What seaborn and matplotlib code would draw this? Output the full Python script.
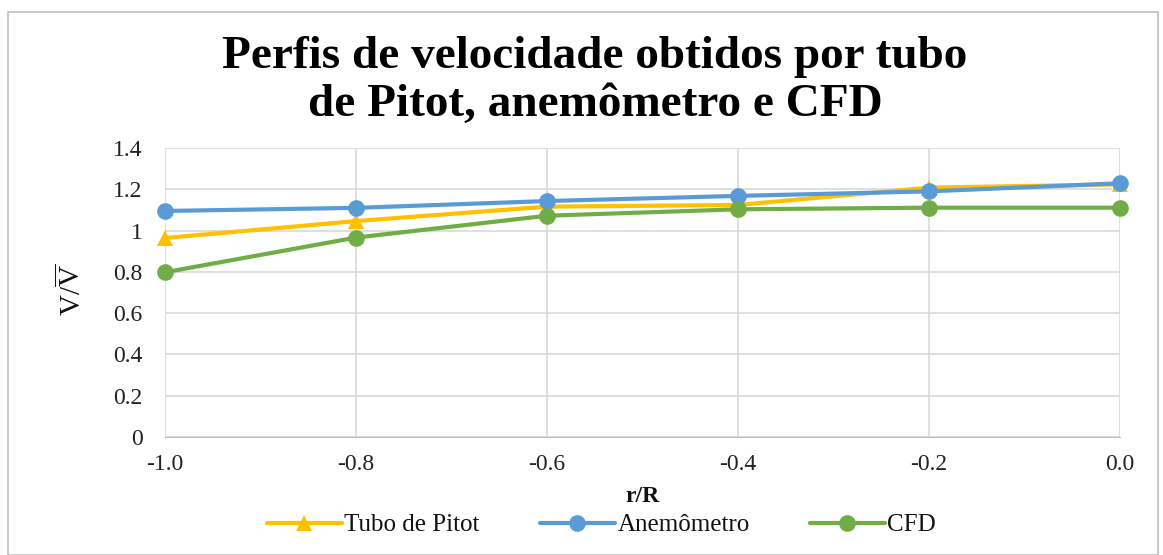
import pandas as pd
import matplotlib.pyplot as plt
import seaborn as sns
from matplotlib.patches import Rectangle

# ── Data ──────────────────────────────────────────────
r_R = [-1.0, -0.8, -0.6, -0.4, -0.2, 0.0]
pitot = [0.964, 1.046, 1.116, 1.124, 1.208, 1.224]
anemometro = [1.095, 1.11, 1.143, 1.168, 1.19, 1.229]
cfd = [0.798, 0.966, 1.072, 1.103, 1.111, 1.111]

series_names = ['Tubo de Pitot', 'Anemômetro', 'CFD']
series_colors = ['#FFC000', '#5B9BD5', '#70AD47']
series_markers = ['^', 'o', 'o']

df = pd.DataFrame({
    'r/R': r_R * 3,
    'v': pitot + anemometro + cfd,
    'serie': sum([[n] * len(r_R) for n in series_names], []),
})

# ── Settings ──────────────────────────────────────────
sns.set_style('white')
plt.rcParams['font.family'] = ['Liberation Serif', 'DejaVu Serif']
plt.rcParams['mathtext.fontset'] = 'custom'
plt.rcParams['mathtext.rm'] = 'Liberation Serif'
plt.rcParams['mathtext.it'] = 'Liberation Serif'
plt.rcParams['text.color'] = '#111111'
plt.rcParams['axes.labelcolor'] = '#111111'
plt.rcParams['xtick.color'] = '#222222'
plt.rcParams['ytick.color'] = '#222222'

fig = plt.figure(figsize=(11.63, 5.55), dpi=100)
ax = fig.add_axes([165 / 1163, 1 - 437 / 555, 955 / 1163, 289 / 555])

sns.lineplot(data=df, x='r/R', y='v', hue='serie', style='serie',
             palette=dict(zip(series_names, series_colors)),
             markers=dict(zip(series_names, series_markers)),
             dashes=False, linewidth=3, markersize=12,
             markeredgewidth=0, clip_on=False, ax=ax, legend=True)

ax.set_xlim(-1.0, 0.0)
ax.set_ylim(0, 1.4)
ax.set_xticks(r_R)
ax.set_xticklabels([f'{v:.1f}' for v in r_R])
ax.set_yticks([0, 0.2, 0.4, 0.6, 0.8, 1.0, 1.2, 1.4])
ax.set_yticklabels(['0', '0.2', '0.4', '0.6', '0.8', '1', '1.2', '1.4'])
ax.tick_params(axis='both', labelsize=17, length=0)
ax.tick_params(axis='x', pad=12)
ax.tick_params(axis='y', pad=16)
ax.grid(True, color='#d9d9d9', linewidth=1.2)
for s in ax.spines.values():
    s.set_visible(False)
ax.spines['bottom'].set_visible(True)
ax.spines['bottom'].set_color('#bfbfbf')

ax.set_xlabel('r/R', fontsize=17, fontweight='bold', labelpad=8)
ax.set_ylabel(r'$V/\overline{V}$', fontsize=21)
ax.yaxis.set_label_coords(-0.082, 0.51)

fig.suptitle('Perfis de velocidade obtidos por tubo\nde Pitot, anemômetro e CFD',
             fontsize=34, fontweight='bold', x=595 / 1163, y=0.935,
             linespacing=1.18, color='black')

handles, labels = ax.get_legend_handles_labels()
ax.legend(handles, labels, loc='center', bbox_to_anchor=(0.457, -0.305),
          ncol=3, frameon=False, fontsize=18, handlelength=3.0,
          handletextpad=0.1, columnspacing=2.4)

fig.patches.append(Rectangle((8 / 1163, 0), 1150 / 1163, 1 - 12 / 555,
                             transform=fig.transFigure, fill=False,
                             edgecolor='#bfbfbf', linewidth=1.2))

plt.savefig('out.png', dpi=100)
